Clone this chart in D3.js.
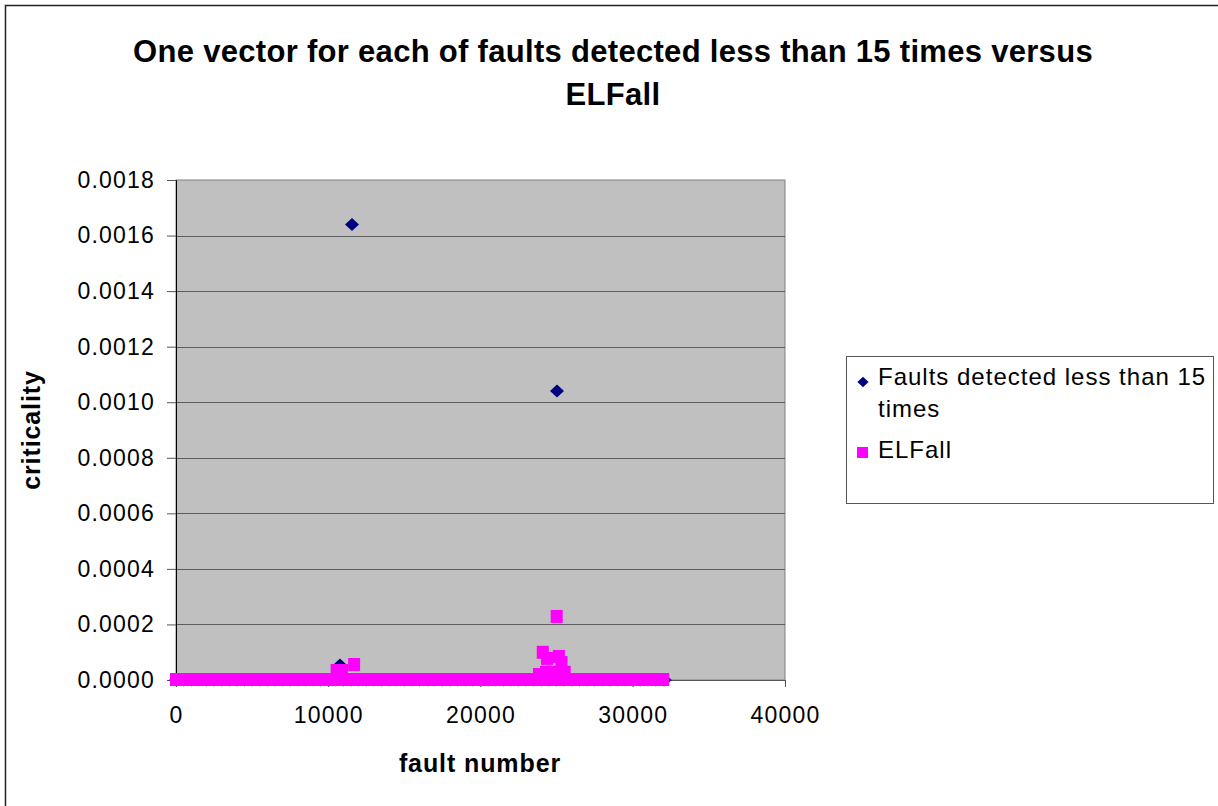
<!DOCTYPE html>
<html>
<head>
<meta charset="utf-8">
<script src="https://cdn.jsdelivr.net/npm/d3@7"></script>
<style>
  body { margin: 0; background: #fff; }
  svg text { font-family: "Liberation Sans", Arial, sans-serif; }
</style>
</head>
<body>
<svg id="chart" width="1218" height="806"></svg>
<script>
// fault numbers whose criticality is zero (both series lie along the x axis)
const zeroFaults = [0, 500, 1000, 1500, 2000, 2500, 3000, 3500, 4000, 4500, 5000, 5500, 6000, 6500,
    7000, 7500, 8000, 8500, 9000, 9500, 10000, 10500, 11000, 11500, 12000, 12500, 13000, 13500,
    14000, 14500, 15000, 15500, 16000, 16500, 17000, 17500, 18000, 18500, 19000, 19500, 20000,
    20500, 21000, 21500, 22000, 22500, 23000, 23500, 24000, 24500, 25000, 25500, 26000, 26500,
    27000, 27500, 28000, 28500, 29000, 29500, 30000, 30500, 31000, 31500, 32000];

// non-zero points, series "Faults detected less than 15 times"
const faultsX = [10770, 11560, 25025, 32100];
const faultsY = [0.000054, 0.00164, 0.00104, 0];

// non-zero points, series "ELFall"
const elfallX = [10550, 10750, 10900, 11700, 23842, 24090, 24302, 24370, 24893, 25005, 25150, 25320, 25530];
const elfallY = [0.0000324, 0.0000324, 0.0000324, 0.000054, 0.000018, 0.000098, 0.000026, 0.000076,
    0.000026, 0.000227, 0.000083, 0.000061, 0.000026];

const xTicks = [0, 10000, 20000, 30000, 40000];
const yTicks = [0, 0.0002, 0.0004, 0.0006, 0.0008, 0.0010, 0.0012, 0.0014, 0.0016, 0.0018];

const seriesNames = ["Faults detected less than 15 times", "ELFall"];
const seriesColors = ["#000080", "#ff00ff"];

const faultsData = zeroFaults.map(f => ({ x: f, y: 0 }))
    .concat(faultsX.map((f, i) => ({ x: f, y: faultsY[i] })));
const elfallData = zeroFaults.map(f => ({ x: f, y: 0 }))
    .concat(elfallX.map((f, i) => ({ x: f, y: elfallY[i] })));

const svg = d3.select("#chart");

// outer chart frame (runs off the right and bottom of the picture)
svg.append("rect")
    .attr("x", 5.5).attr("y", 5.5)
    .attr("width", 1300).attr("height", 900)
    .attr("fill", "#fff")
    .attr("stroke", "#222")
    .attr("stroke-width", 1.5);

const plot = { left: 176, top: 180, right: 785, bottom: 680 };

const x = d3.scaleLinear().domain([0, 40000]).range([plot.left, plot.right]);
const y = d3.scaleLinear().domain([0, 0.0018]).range([plot.bottom, plot.top]);

// plot area
svg.append("rect")
    .attr("x", plot.left).attr("y", plot.top)
    .attr("width", plot.right - plot.left).attr("height", plot.bottom - plot.top)
    .attr("fill", "#c0c0c0")
    .attr("stroke", "#808080");

// gridlines
svg.append("g")
    .selectAll("line")
    .data(yTicks.slice(1, -1))
    .join("line")
    .attr("x1", plot.left).attr("x2", plot.right)
    .attr("y1", d => Math.round(y(d)) + 0.5).attr("y2", d => Math.round(y(d)) + 0.5)
    .attr("stroke", "#5e5e5e");

// y axis
const yAxis = svg.append("g")
    .attr("transform", `translate(${plot.left},0)`)
    .call(d3.axisLeft(y).tickValues(yTicks).tickFormat(d3.format(".4f")).tickSize(9).tickPadding(12));
yAxis.select(".domain").attr("stroke", "#000");
yAxis.selectAll(".tick line").attr("stroke", "#555");
yAxis.selectAll("text")
    .attr("font-size", 23)
    .attr("letter-spacing", 1.2)
    .attr("fill", "#000");

// x axis
const xAxis = svg.append("g")
    .attr("transform", `translate(0,${plot.bottom})`)
    .call(d3.axisBottom(x).tickValues(xTicks).tickFormat(d3.format("d")).tickSize(7).tickPadding(20));
xAxis.select(".domain").attr("stroke", "#555");
xAxis.selectAll(".tick line").attr("stroke", "#555");
xAxis.selectAll("text")
    .attr("font-size", 23)
    .attr("letter-spacing", 1.2)
    .attr("fill", "#000");

// series 1: diamonds
const diamond = (cx, cy) => `M${cx},${cy - 6.5}L${cx + 7},${cy}L${cx},${cy + 6.5}L${cx - 7},${cy}Z`;
svg.append("g")
    .selectAll("path")
    .data(faultsData)
    .join("path")
    .attr("d", d => diamond(x(d.x), y(d.y)))
    .attr("fill", seriesColors[0]);

// series 2: squares
svg.append("g")
    .selectAll("rect")
    .data(elfallData)
    .join("rect")
    .attr("x", d => x(d.x) - 6)
    .attr("y", d => y(d.y) - 7)
    .attr("width", 12)
    .attr("height", 13)
    .attr("fill", seriesColors[1]);

// title
svg.append("text")
    .attr("x", 613).attr("y", 62)
    .attr("text-anchor", "middle")
    .attr("font-size", 31).attr("font-weight", "bold")
    .attr("letter-spacing", 0.3)
    .text("One vector for each of faults detected less than 15 times versus");
svg.append("text")
    .attr("x", 613).attr("y", 105)
    .attr("text-anchor", "middle")
    .attr("font-size", 31).attr("font-weight", "bold")
    .attr("letter-spacing", 0.3)
    .text("ELFall");

// axis titles
svg.append("text")
    .attr("transform", "translate(40,430) rotate(-90)")
    .attr("text-anchor", "middle")
    .attr("font-size", 25).attr("font-weight", "bold")
    .attr("letter-spacing", 0.9)
    .text("criticality");
svg.append("text")
    .attr("x", 480).attr("y", 772)
    .attr("text-anchor", "middle")
    .attr("font-size", 25).attr("font-weight", "bold")
    .attr("letter-spacing", 0.9)
    .text("fault number");

// legend
const legend = svg.append("g");
legend.append("rect")
    .attr("x", 846.5).attr("y", 356.5)
    .attr("width", 367).attr("height", 147)
    .attr("fill", "#fff")
    .attr("stroke", "#555");
legend.append("path")
    .attr("d", diamond(863, 382))
    .attr("fill", seriesColors[0])
    .attr("transform", "translate(863,382) scale(0.8) translate(-863,-382)");
legend.append("text")
    .attr("x", 878).attr("y", 385)
    .attr("font-size", 24).attr("letter-spacing", 1.0)
    .text("Faults detected less than 15");
legend.append("text")
    .attr("x", 878).attr("y", 417)
    .attr("font-size", 24).attr("letter-spacing", 1.0)
    .text("times");
legend.append("rect")
    .attr("x", 857).attr("y", 447)
    .attr("width", 11).attr("height", 11)
    .attr("fill", seriesColors[1]);
legend.append("text")
    .attr("x", 878).attr("y", 458)
    .attr("font-size", 24).attr("letter-spacing", 1.0)
    .text(seriesNames[1]);
</script>
</body>
</html>
